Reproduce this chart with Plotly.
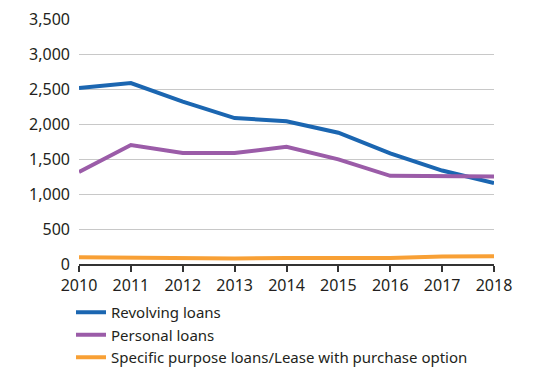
import plotly.graph_objects as go

years = [2010, 2011, 2012, 2013, 2014, 2015, 2016, 2017, 2018]
revolving = [2515, 2585, 2320, 2085, 2040, 1875, 1580, 1335, 1155]
personal = [1315, 1700, 1585, 1585, 1675, 1495, 1260, 1255, 1250]
specific = [95, 88, 85, 80, 85, 85, 85, 108, 110]

names = ["Revolving loans", "Personal loans", "Specific purpose loans/Lease with purchase option"]
colors = ["#1b66b1", "#9b5ca8", "#f8a035"]

fig = go.Figure()
for name, vals, c in zip(names, [revolving, personal, specific], colors):
    fig.add_trace(go.Scatter(x=years, y=vals, mode="lines", name=name,
                             line=dict(color=c, width=4)))

fig.update_layout(
    width=533, height=367,
    margin=dict(l=79, r=39, t=19, b=103, autoexpand=False),
    paper_bgcolor="white", plot_bgcolor="white",
    font=dict(family="Noto Sans", size=16, color="#231f20"),
    showlegend=True,
    legend=dict(xref="container", yref="container", x=71 / 533, y=1 - 296 / 367,
                xanchor="left", yanchor="top",
                font=dict(size=15), tracegroupgap=0, itemwidth=30,
                bgcolor="rgba(0,0,0,0)"),
)
fig.update_xaxes(range=[2010, 2018], tickvals=years, ticks="outside", ticklen=6,
                 tickcolor="#333333", tickwidth=1.5, showline=True, linecolor="#333333",
                 linewidth=1.5, showgrid=False, zeroline=False, fixedrange=True)
fig.update_yaxes(range=[0, 3500], dtick=500, tickformat=",", showgrid=True,
                 gridcolor="#c8c8c8", gridwidth=1.3, zeroline=False, ticks="",
                 ticklabelstandoff=8, fixedrange=True)

fig.write_html("out.html")
